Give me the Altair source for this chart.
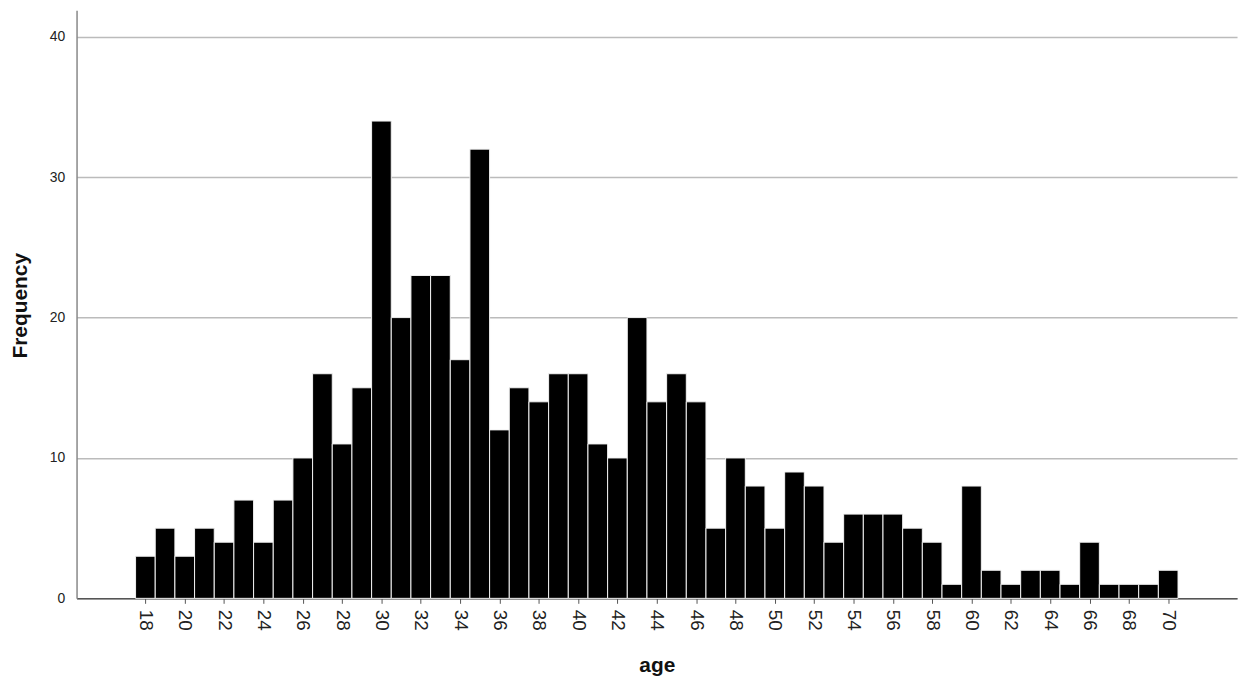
import altair as alt
import pandas as pd

ages = list(range(18, 71))
freqs = [3, 5, 3, 5, 4, 7, 4, 7, 10, 16, 11, 15, 34, 20, 23, 23, 17, 32, 12, 15,
         14, 16, 16, 11, 10, 20, 14, 16, 14, 5, 10, 8, 5, 9, 8, 4, 6, 6, 6, 5,
         4, 1, 8, 2, 1, 2, 2, 1, 4, 1, 1, 1, 2]
x_ticks = list(range(18, 71, 2))
y_ticks = [0, 10, 20, 30, 40]

df = pd.DataFrame({"age": ages, "freq": freqs})

FONT = "Liberation Sans"

bars = alt.Chart(df).transform_calculate(
    lo="datum.age - 0.5", hi="datum.age + 0.5", base="0"
).mark_bar(color="black", stroke="#f2f2f2", strokeWidth=1).encode(
    x=alt.X("lo:Q",
            scale=alt.Scale(domain=[14.5, 73.5], nice=False, zero=False),
            axis=alt.Axis(values=x_ticks, labelAngle=90, labelAlign="left",
                          labelBaseline="middle", labelFontSize=19,
                          labelColor="#222", labelFont=FONT, labelPadding=6,
                          tickSize=5, tickColor="#555", domainColor="#555",
                          domainWidth=1.5, grid=False, title="age",
                          titleFont=FONT, titleFontSize=21, titleFontWeight="bold",
                          titleColor="#111", titleY=68, titleBaseline="middle",
                          titleX=584, titleAlign="center", labelFlush=False,
                          labelOverlap=False)),
    x2="hi:Q",
    y=alt.Y("freq:Q",
            scale=alt.Scale(domain=[0, 41.9], nice=False),
            axis=alt.Axis(values=y_ticks, labelFontSize=14, labelFont=FONT,
                          labelColor="#222", labelPadding=12, ticks=False,
                          domainColor="#888", domainWidth=1.5,
                          grid=True, gridColor="#bbbbbb", gridWidth=1.5,
                          title="Frequency", titleFont=FONT, titleFontSize=21,
                          titleFontWeight="bold", titleColor="#111",
                          titleAngle=-90, titleX=-56, titleY=297,
                          titleAlign="center", titleBaseline="middle",
                          labelFlush=False)),
    y2="base:Q",
)

chart = bars.properties(
    width=1168, height=592,
    autosize=alt.AutoSizeParams(type="none"),
    padding={"left": 69, "top": 0, "right": 6, "bottom": 78},
).configure(background="white").configure_view(stroke=None)

chart.save("out.html", embed_options={"renderer": "svg", "actions": False})
